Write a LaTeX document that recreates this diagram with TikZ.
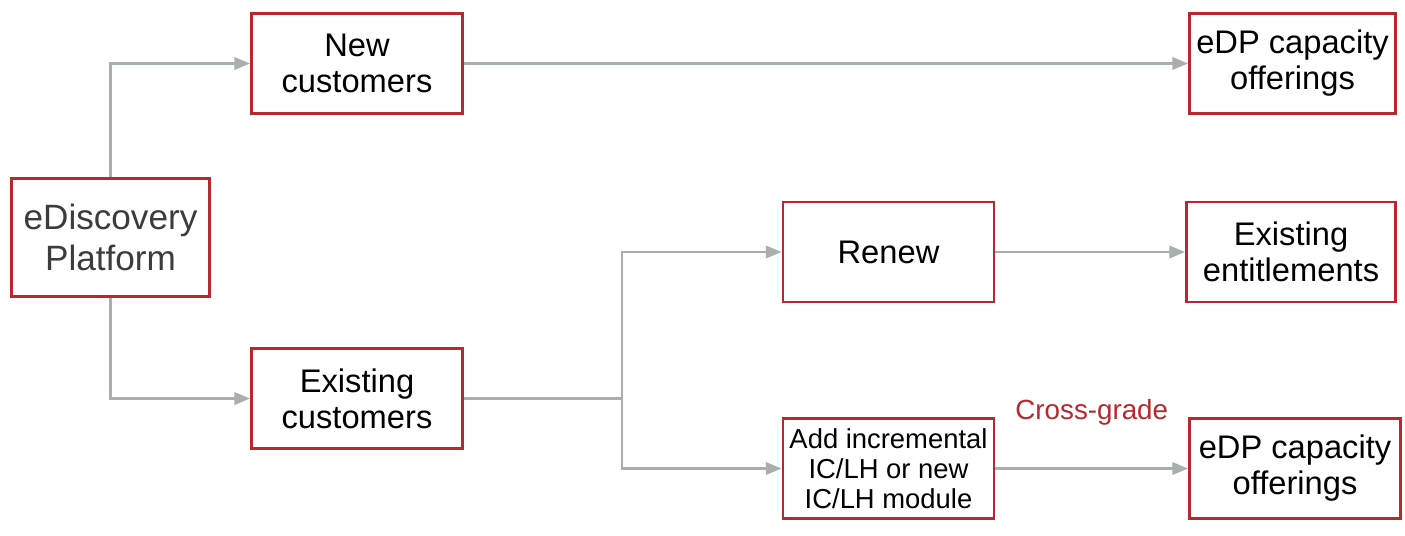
\documentclass[tikz,border=0pt]{standalone}
\usepackage{fontspec}
\setmainfont{Liberation Sans}
\usepackage{xcolor}
\usepackage{tikz}
\usetikzlibrary{arrows.meta}
\definecolor{boxred}{HTML}{B8282E}
\definecolor{linegray}{HTML}{A9AEAE}
\definecolor{softtext}{HTML}{3C3C3C}

\begin{document}
\begin{tikzpicture}[x=0.02cm,y=-0.02cm]
\tikzstyle{stagebox}=[draw=boxred, line width=1.6pt, fill=white, align=center,
  minimum width=4.22cm, minimum height=2.0cm, inner sep=2pt,
  font=\fontsize{18.6}{20.5}\selectfont]
\tikzstyle{flow}=[draw=linegray, line width=1.6pt, -{Triangle[length=9pt,width=7pt]}]
\tikzstyle{plain}=[draw=linegray, line width=1.6pt]
\useasboundingbox (0,0) rectangle (1405,535);
% boxes
\node [stagebox, minimum width=3.96cm, minimum height=2.36cm, text=softtext,
  font=\fontsize{20}{23}\selectfont] (plat) at (110.5,237.5) {eDiscovery\\Platform};
\node [stagebox] (newc) at (357,63.5) {New\\customers};
\node [stagebox, minimum width=4.12cm] (offtop) at (1292.5,63.5) {eDP capacity\\offerings};
\node [stagebox] (exc) at (357,398.5) {Existing\\customers};
\node [stagebox] (renew) at (888.5,252) {Renew};
\node [stagebox, minimum width=4.18cm] (ent) at (1291,252) {Existing\\entitlements};
\node [stagebox, font=\fontsize{15.6}{17}\selectfont] (addm) at (888.5,468.5)
  {Add incremental\\IC/LH or new\\IC/LH module};
\node [stagebox] (offbot) at (1295,468.5) {eDP capacity\\offerings};
\coordinate (fork) at (622,398.5);
% connectors
\draw [flow] (plat.north) |- (newc.west);
\draw [flow] (plat.south) |- (exc.west);
\draw [flow] (newc.east) -- (offtop.west);
\draw [plain] (exc.east) -- (fork);
\draw [flow] (fork) |- (renew.west);
\draw [flow] (fork) |- (addm.west);
\draw [flow] (renew.east) -- (ent.west);
\draw [flow] (addm.east) -- node [yshift=1.12cm, text=boxred,
  font=\fontsize{15.8}{18}\selectfont] (xgrade) {Cross-grade} (offbot.west);
\end{tikzpicture}
\end{document}
